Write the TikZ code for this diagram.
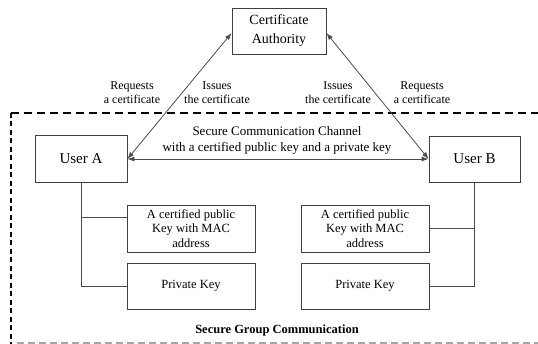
\documentclass[tikz,border=0pt]{standalone}
\usepackage{fontspec}
\setmainfont{Liberation Serif}
\usetikzlibrary{arrows.meta}

\begin{document}
\begin{tikzpicture}[x=1pt,y=-1pt,
    box/.style={draw=black!75, line width=0.8pt, align=center, inner sep=0pt},
    lbl/.style={align=center, font=\fontsize{12}{14}\selectfont},
    link/.style={draw=black!70, line width=0.8pt},
    twoway/.style={link, {Latex[length=7pt,width=5pt]}-{Latex[length=7pt,width=5pt]}}]

    \useasboundingbox (0,0) rectangle (538,344);

    % Draw the group region
    \draw[line width=1.8pt, dash pattern=on 8pt off 5pt] (11,113) -- (538,113);
    \draw[line width=1.8pt, dash pattern=on 5pt off 3.5pt] (11,113) -- (11,344);
    \draw[black!35, line width=1.5pt, dash pattern=on 7pt off 4pt] (17,343) -- (538,343);

    % Draw the authority and the two users
    \node[box, minimum width=94, minimum height=46, font=\fontsize{14}{19}\selectfont] (ca) at (279,31) {Certificate\\Authority};
    \node[box, minimum width=92, minimum height=47, font=\fontsize{15}{18}\selectfont] (userA) at (81,159) {User A};
    \node[box, minimum width=91, minimum height=46, font=\fontsize{15}{18}\selectfont] (userB) at (474.5,159) {User B};

    % Draw the key boxes
    \node[box, minimum width=128, minimum height=47, font=\fontsize{12.5}{14.5}\selectfont] (pubA) at (191,228.5) {A certified public\\Key with MAC\\address};
    \node[box, minimum width=128, minimum height=46, font=\fontsize{12.5}{14.5}\selectfont] (privA) at (191,286) {Private Key};
    \node[box, minimum width=128, minimum height=47, font=\fontsize{12.5}{14.5}\selectfont] (pubB) at (365,228.5) {A certified public\\Key with MAC\\address};
    \node[box, minimum width=128, minimum height=46, font=\fontsize{12.5}{14.5}\selectfont] (privB) at (365,286) {Private Key};

    % Connect users to their keys
    \coordinate (tapA) at (81,217);
    \draw[link] (userA.south) |- (privA.west);
    \draw[link] (tapA) -- (tapA -| pubA.west);
    \draw[link] (userB.south) |- (privB.east);
    \draw[link] (userB.south |- pubB.east) -- (pubB.east);

    % Certificate requests and the channel
    \draw[twoway] ([yshift=-2pt]ca.west) -- (userA.east);
    \draw[twoway] ([yshift=-2pt]ca.east) -- (userB.west);
    \draw[twoway] (userA.east) -- (userB.west);

    % Add the labels
    \node[lbl] (reqA) at (132,93) {Requests\\a certificate};
    \node[lbl] (issA) at (217,93) {Issues\\the certificate};
    \node[lbl] (issB) at (338,93) {Issues\\the certificate};
    \node[lbl] (reqB) at (422,93) {Requests\\a certificate};
    \node[align=center, font=\fontsize{13}{16}\selectfont] (chan) at (277,140) {Secure Communication Channel\\with a certified public key and a private key};
    \node[font=\fontsize{12.5}{15}\selectfont\bfseries] (group) at (277,330) {Secure Group Communication};

\end{tikzpicture}
\end{document}
